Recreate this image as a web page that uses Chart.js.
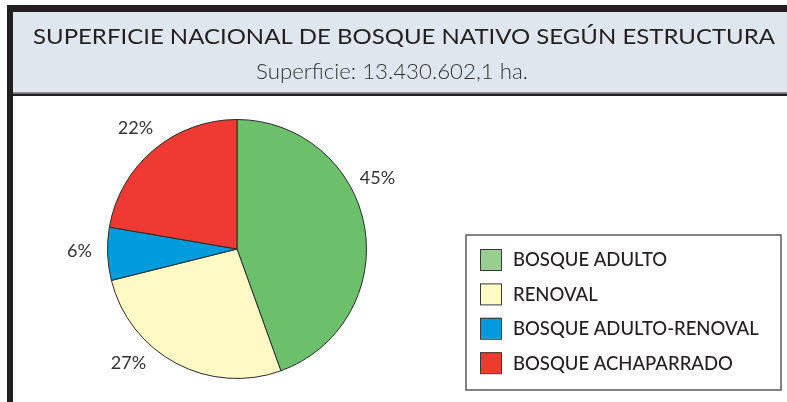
<!DOCTYPE html>
<html>
<head>
<meta charset="utf-8">
<script src="https://cdn.jsdelivr.net/npm/chart.js@4"></script>
<style>
  html, body { margin: 0; padding: 0; background: #ffffff; }
  #wrap { width: 787px; height: 402px; }
</style>
</head>
<body>
<div id="wrap"><canvas id="c" width="787" height="402"></canvas></div>
<script>
// ---- data ----
const categories = ["BOSQUE ADULTO", "RENOVAL", "BOSQUE ADULTO-RENOVAL", "BOSQUE ACHAPARRADO"];
const shares = [44.5, 26.6, 6.6, 22.3];
const shareLabels = ["45%", "27%", "6%", "22%"];
const titleText = "SUPERFICIE NACIONAL DE BOSQUE NATIVO SEGÚN ESTRUCTURA";
const subtitleText = "Superficie: 13.430.602,1 ha.";

const sliceColors = ["#6cbf6b", "#fff9c6", "#009bda", "#ee3a32"];
const swatchColors = ["#97cf91", "#fff9c6", "#009bda", "#ee3a32"];
const FONT = "Lato, 'Open Sans', sans-serif";

function fitText(ctx, text, cx, cy, width) {
  const w = ctx.measureText(text).width;
  const s = width / w;
  ctx.save();
  ctx.translate(cx, cy);
  ctx.scale(s, 1);
  ctx.fillText(text, 0, 0);
  ctx.restore();
}

const headerPlugin = {
  id: 'header',
  beforeDraw(chart, args, opts) {
    const ctx = chart.ctx;
    ctx.save();
    ctx.fillStyle = '#ffffff';
    ctx.fillRect(0, 0, 787, 402);
    // header background
    ctx.fillStyle = '#dfe6ed';
    ctx.fillRect(13, 12, 774, 81);
    ctx.fillStyle = '#8d9196';
    ctx.fillRect(13, 92, 774, 1.5);
    ctx.fillStyle = '#231f20';
    ctx.fillRect(13, 93.5, 774, 2.5);
    // top and left thick borders
    ctx.fillRect(7, 5, 780, 7);
    ctx.fillRect(7, 5, 6, 397);
    // title + subtitle
    ctx.textAlign = 'center';
    ctx.textBaseline = 'middle';
    ctx.fillStyle = '#231f20';
    ctx.font = "22px " + FONT;
    fitText(ctx, titleText, 404, 37, 742);
    ctx.fillStyle = '#333333';
    ctx.font = "300 21px " + FONT;
    fitText(ctx, subtitleText, 392, 72, 272);
    ctx.restore();
  }
};

const outLabelPlugin = {
  id: 'outLabels',
  afterDatasetsDraw(chart, args, opts) {
    const ctx = chart.ctx;
    const meta = chart.getDatasetMeta(0);
    ctx.save();
    ctx.font = opts.font;
    ctx.fillStyle = opts.color;
    ctx.textAlign = 'center';
    ctx.textBaseline = 'middle';
    meta.data.forEach((arc, i) => {
      const p = arc.getProps(['x', 'y', 'startAngle', 'endAngle', 'outerRadius'], true);
      const mid = (p.startAngle + p.endAngle) / 2 + (opts.shifts[i] || 0) * Math.PI / 180;
      const d = p.outerRadius + opts.gap;
      ctx.fillText(shareLabels[i], p.x + Math.cos(mid) * d, p.y + Math.sin(mid) * d);
    });
    ctx.restore();
  }
};

const boxLegendPlugin = {
  id: 'boxLegend',
  afterDraw(chart, args, opts) {
    const ctx = chart.ctx;
    ctx.save();
    ctx.strokeStyle = '#5a5a5a';
    ctx.lineWidth = 1.5;
    ctx.strokeRect(opts.left, opts.top, opts.width, opts.height);
    ctx.font = opts.font;
    ctx.textBaseline = 'middle';
    ctx.textAlign = 'left';
    chart.data.labels.forEach((lab, i) => {
      const cy = opts.firstRow + i * opts.rowGap;
      ctx.fillStyle = opts.colors[i];
      ctx.fillRect(opts.left + 14, cy - 10.5, 21, 21);
      ctx.strokeStyle = '#3a3a3a';
      ctx.lineWidth = 1;
      ctx.strokeRect(opts.left + 14.5, cy - 10, 21, 21);
      ctx.fillStyle = '#231f20';
      ctx.fillText(lab, opts.left + 47, cy + 1);
    });
    ctx.restore();
  }
};

new Chart(document.getElementById('c'), {
  type: 'pie',
  data: {
    labels: categories,
    datasets: [{
      data: shares,
      backgroundColor: sliceColors,
      borderColor: '#2b2b2b',
      borderWidth: 1,
      radius: 129.5
    }]
  },
  options: {
    responsive: false,
    animation: false,
    events: [],
    layout: { padding: { left: 100, right: 413, top: 110, bottom: 14 } },
    plugins: {
      legend: { display: false },
      tooltip: { enabled: false },
      title: { display: false },
      outLabels: {
        font: "18px " + FONT,
        color: '#333333',
        gap: 28,
        shifts: [-17, 15.5, 1.5, 0]
      },
      boxLegend: {
        left: 466, top: 235, width: 315, height: 155,
        firstRow: 259.5, rowGap: 34.4,
        font: "500 18.5px " + FONT,
        colors: swatchColors
      }
    }
  },
  plugins: [headerPlugin, outLabelPlugin, boxLegendPlugin]
});
</script>
</body>
</html>
